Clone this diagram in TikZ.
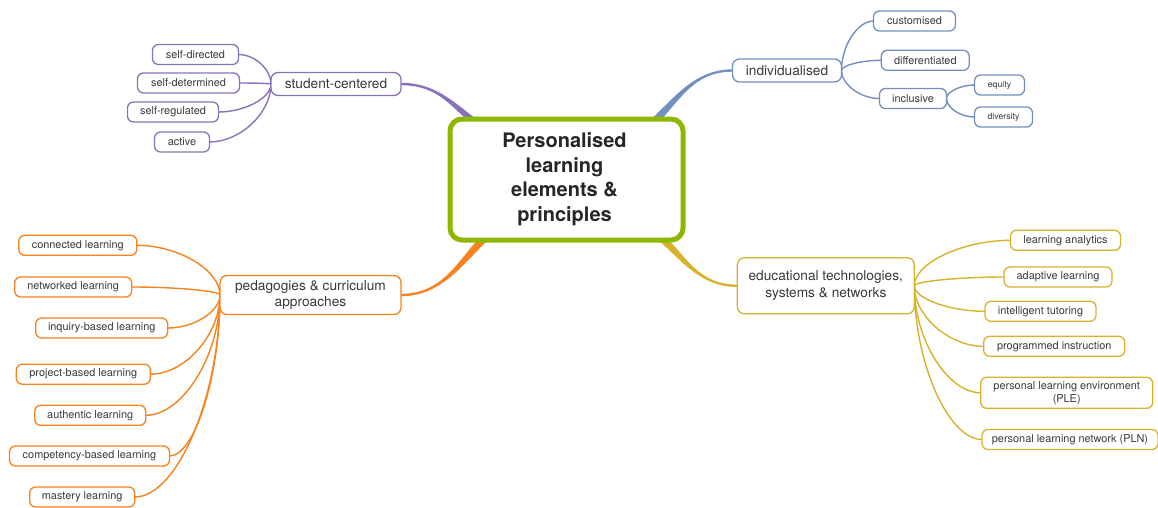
\documentclass[tikz,border=0pt]{standalone}
\usepackage{fontspec}
\setmainfont{TeX Gyre Heros}
\usetikzlibrary{calc}
\pgfdeclarelayer{bg}
\pgfsetlayers{bg,main}
\definecolor{pur}{HTML}{8A72BB}
\definecolor{blu}{HTML}{7190C0}
\definecolor{ora}{HTML}{F7821E}
\definecolor{gol}{HTML}{D9B22C}
\definecolor{grn}{HTML}{8DB800}
\definecolor{txt}{HTML}{3A3A3A}
% tapered main branch: colour, thin end, thick end, side sign
\newcommand\taper[4]{%
 \fill[#1] let \p1=(#2), \p2=(#3) in
 ({\x1},{\y1+1.2pt}) .. controls ({0.5*\x1+0.5*\x2},{\y1+1.2pt}) and ({0.3*\x1+0.7*\x2+(#4)*4pt},{0.4*\y1+0.6*\y2}) .. ({\x2+(#4)*5.5pt},{\y2})
 -- ({\x2-(#4)*5.5pt},{\y2}) .. controls ({0.3*\x1+0.7*\x2-(#4)*4pt},{0.4*\y1+0.6*\y2}) and ({0.5*\x1+0.5*\x2},{\y1-1.2pt}) .. ({\x1},{\y1-1.2pt}) -- cycle;}
% thin connector from a parent to a child
\newcommand\twig[3]{%
 \draw[#1,line width=1.4pt] let \p1=(#2), \p2=(#3) in
 (\p1) .. controls ({\x1},{0.5*\y1+0.5*\y2}) and ({0.5*\x1+0.5*\x2},{\y2}) .. (\p2);}
\begin{document}
\begin{tikzpicture}[x=1pt,y=-1pt,
  leaf/.style={draw,fill=white,rounded corners=6pt,line width=1.3pt,text=txt,
    font=\fontsize{10.9}{12.8}\selectfont,minimum height=20pt,inner sep=2pt,align=center,outer sep=0pt},
  tiny/.style={leaf,font=\fontsize{8.7}{10}\selectfont},
  lvl/.style={draw,fill=white,rounded corners=7pt,line width=1.3pt,text=txt,
    font=\fontsize{13.7}{16.8}\selectfont,minimum height=23pt,inner sep=2pt,align=center,outer sep=0pt},
  hub/.style={draw=grn,fill=white,rounded corners=12pt,line width=5pt,text=black!85,
    font=\fontsize{20}{24.5}\selectfont\bfseries,outer sep=0pt}]
\useasboundingbox (0,0) rectangle (1158,507);

% centre
\node[hub,minimum width=233pt,minimum height=121pt] (c) at (566.5,179.5)
  {\raisebox{-3.5pt}{\hspace*{-4pt}\begin{tabular}{@{}c@{}}Personalised\\learning\\elements \&\\principles\end{tabular}}};

% purple
\node[lvl,draw=pur,minimum width=130pt] (sc) at (336,84) {student-centered};
\node[leaf,draw=pur,minimum width=86pt] (sd) at (195.5,54.5) {self-directed};
\node[leaf,draw=pur,minimum width=102pt] (sdt) at (188.5,83) {self-determined};
\node[leaf,draw=pur,minimum width=91pt] (sr) at (173,112) {self-regulated};
\node[leaf,draw=pur,minimum width=55pt] (ac) at (182,142) {active};

% blue
\node[lvl,draw=blu,minimum width=109pt] (ind) at (787,70.5) {individualised};
\node[leaf,draw=blu,minimum width=82pt] (cu) at (914.5,21) {customised};
\node[leaf,draw=blu,minimum width=88pt] (di) at (925.3,60.3) {differentiated};
\node[leaf,draw=blu,minimum width=67pt] (in) at (913,98.5) {inclusive};
\node[tiny,draw=blu,minimum width=50pt] (eq) at (999.5,85) {equity};
\node[tiny,draw=blu,minimum width=58pt] (dv) at (1003.5,117) {diversity};

% orange
\node[lvl,draw=ora,minimum width=181pt,minimum height=39pt] (pe) at (310.5,295) {pedagogies \& curriculum\\approaches};
\node[leaf,draw=ora,minimum width=118pt] (o1) at (77.8,245.3) {connected learning};
\node[leaf,draw=ora,minimum width=117pt] (o2) at (73.2,287) {networked learning};
\node[leaf,draw=ora,minimum width=132pt] (o3) at (101.7,328) {inquiry-based learning};
\node[leaf,draw=ora,minimum width=134pt] (o4) at (83.3,374.2) {project-based learning};
\node[leaf,draw=ora,minimum width=111pt] (o5) at (90.2,415.3) {authentic learning};
\node[leaf,draw=ora,minimum width=160pt] (o6) at (89.5,456) {competency-based learning};
\node[leaf,draw=ora,minimum width=105pt] (o7) at (82.2,497) {mastery learning};

% gold
\node[lvl,draw=gol,minimum width=177pt,minimum height=56pt] (ed) at (825.8,285.8) {educational technologies,\\systems \& networks};
\node[leaf,draw=gol,minimum width=110pt] (g1) at (1065.5,240.3) {learning analytics};
\node[leaf,draw=gol,minimum width=108pt] (g2) at (1058,277) {adaptive learning};
\node[leaf,draw=gol,minimum width=111pt] (g3) at (1040.5,311.3) {intelligent tutoring};
\node[leaf,draw=gol,minimum width=141pt] (g4) at (1054.2,346.3) {programmed instruction};
\node[leaf,draw=gol,minimum width=172pt,minimum height=31pt] (g5) at (1066.7,392.8) {personal learning environment\\(PLE)};
\node[leaf,draw=gol,minimum width=176pt] (g6) at (1070,439.5) {personal learning network (PLN)};

\begin{pgfonlayer}{bg}
\fill[white] (0,0) rectangle (1158,507);
\coordinate (qp) at ($(c.north west)+(28,5)$);
\coordinate (qb) at ($(c.north east)+(-32,5)$);
\coordinate (qo) at ($(c.south west)+(38,-5)$);
\coordinate (qg) at ($(c.south east)+(-25,-5)$);
\taper{pur}{sc.east}{qp}{1}
\taper{blu}{ind.west}{qb}{-1}
\taper{ora}{pe.east}{qo}{-1}
\taper{gol}{ed.west}{qg}{1}

\foreach \k in {sd,sdt,sr,ac} {\twig{pur}{sc.west}{\k.east}}
\foreach \k in {cu,di,in} {\twig{blu}{ind.east}{\k.west}}
\foreach \k in {eq,dv} {\twig{blu}{in.east}{\k.west}}
\foreach \k in {o1,o2,o3,o4,o5,o6,o7} {\twig{ora}{pe.west}{\k.east}}
\foreach \k in {g1,g2,g3,g4,g5,g6} {\twig{gol}{ed.east}{\k.west}}
\end{pgfonlayer}
\end{tikzpicture}
\end{document}
